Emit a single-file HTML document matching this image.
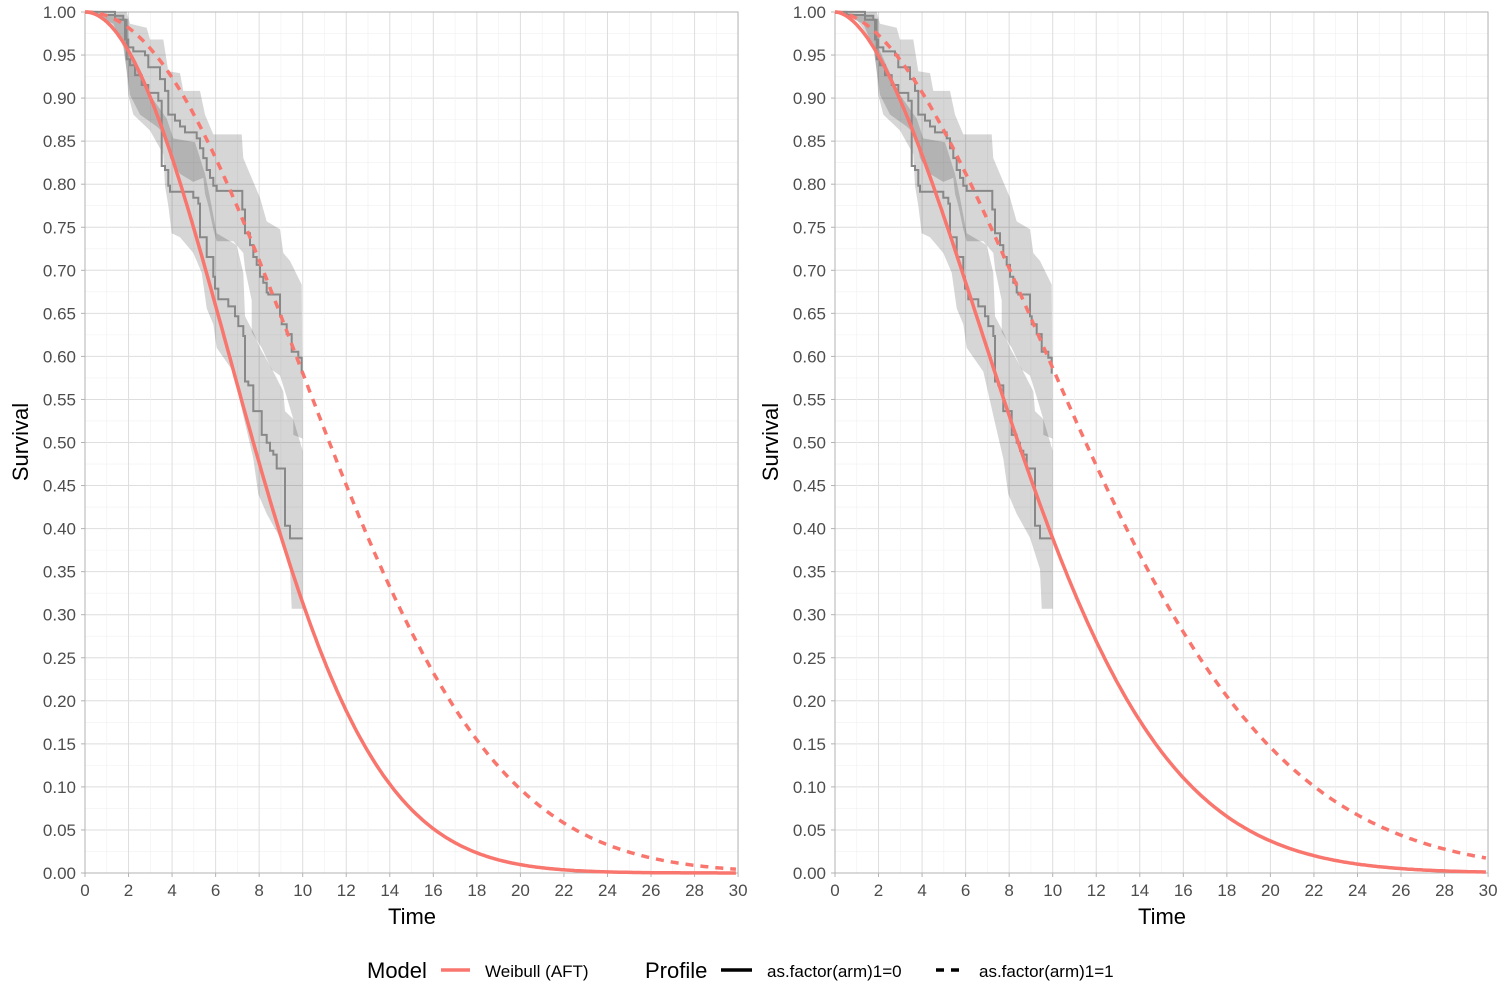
<!DOCTYPE html>
<html><head><meta charset="utf-8"><style>
html,body{margin:0;padding:0;background:#fff}
svg{display:block;font-family:"Liberation Sans",sans-serif}
</style></head><body>
<svg id="s" width="1500" height="999" xmlns="http://www.w3.org/2000/svg"></svg>
<script>
const S=document.getElementById('s');let h='';
const Y=v=>873-v*861;
const KM0=[[20,30],[105,30],[105,40],[130,40],[130,50],[140,50],[140,150],[150,150],[150,165],[165,165],[165,190],[185,190],[185,215],[205,215],[205,235],[235,235],[235,255],[245,255],[245,420],[255,420],[255,430],[265,430],[265,470],[270,470],[270,485],[340,485],[340,500],[355,500],[355,515],[360,515],[360,600],[380,600],[380,650],[400,650],[400,700],[405,700],[405,730],[415,730],[415,757],[445,757],[445,775],[465,775],[465,800],[475,800],[475,825],[490,825],[490,850],[495,850],[495,965],[505,965],[505,975],[520,975],[520,1040],[545,1040],[545,1100],[560,1100],[560,1120],[570,1120],[570,1140],[580,1140],[580,1150],[590,1150],[590,1185],[615,1185],[615,1330],[630,1330],[630,1362],[668,1362]];
const KM1=[[20,30],[50,30],[50,38],[105,38],[105,50],[135,50],[135,100],[145,100],[145,120],[160,120],[160,130],[195,130],[195,140],[205,140],[205,170],[240,170],[240,200],[255,200],[255,230],[265,230],[265,290],[285,290],[285,305],[300,305],[300,320],[315,320],[315,335],[350,335],[350,350],[360,350],[360,375],[370,375],[370,400],[380,400],[380,430],[390,430],[390,450],[400,450],[400,470],[410,470],[410,483],[487,483],[487,530],[495,530],[495,590],[510,590],[510,620],[520,620],[520,650],[530,650],[530,670],[540,670],[540,700],[550,700],[550,715],[560,715],[560,740],[565,740],[565,745],[600,745],[600,800],[605,800],[605,820],[620,820],[620,845],[635,845],[635,890],[655,890],[655,905],[665,905],[665,945]];
const B1=[[20,30],[140,30],[150,60],[200,70],[210,100],[250,100],[265,180],[300,185],[310,230],[360,230],[375,290],[400,340],[485,340],[490,400],[540,500],[560,560],[600,580],[610,640],[630,660],[665,720],[668,1110],[640,1100],[640,1060],[615,990],[600,950],[575,935],[545,880],[515,840],[515,760],[495,680],[490,640],[460,610],[410,610],[400,580],[385,520],[375,490],[370,450],[340,460],[300,440],[270,400],[255,340],[230,320],[180,290],[150,240],[140,180],[130,110],[80,50]];
const B0=[[20,30],[130,40],[140,100],[145,120],[210,240],[260,300],[280,350],[345,360],[375,440],[380,460],[390,500],[410,590],[470,620],[490,690],[495,800],[520,840],[540,880],[580,940],[610,990],[615,1040],[640,1060],[668,1140],[668,1540],[635,1540],[630,1440],[600,1360],[560,1300],[535,1250],[520,1160],[495,1070],[460,940],[410,880],[400,820],[380,780],[365,690],[340,640],[300,600],[275,590],[265,520],[255,470],[250,390],[210,330],[160,290],[145,240],[140,180],[130,120],[100,60]];
const pts=(a,dx)=>a.map(p=>((80+dx+p[0]/3).toFixed(1)+','+(p[1]/3*1.186).toFixed(1))).join(' ');
function panel(x0,curves){
  const X=t=>x0+t*21.77;
  for(let i=0;i<=40;i++){const v=i*0.025;h+=`<line x1="${x0}" x2="${x0+653}" y1="${Y(v)}" y2="${Y(v)}" stroke="${i%2?'#f0f0f0':'#dedede'}" stroke-width="${i%2?0.6:1}"/>`;}
  for(let t=0;t<=30;t++){h+=`<line y1="12" y2="873" x1="${X(t)}" x2="${X(t)}" stroke="${t%2?'#f0f0f0':'#dedede'}" stroke-width="${t%2?0.6:1}"/>`;}
  h+=`<rect x="${x0}" y="12" width="653" height="861" fill="none" stroke="#b3b3b3" stroke-width="1"/>`;
  for(let i=0;i<=20;i++){const v=i*0.05;h+=`<text x="${x0-9}" y="${Y(v)+6}" font-size="17" fill="#4d4d4d" text-anchor="end">${v.toFixed(2)}</text><line x1="${x0-4}" x2="${x0}" y1="${Y(v)}" y2="${Y(v)}" stroke="#b3b3b3"/>`;}
  for(let t=0;t<=30;t+=2){h+=`<text x="${X(t)}" y="896" font-size="17" fill="#4d4d4d" text-anchor="middle">${t}</text><line y1="873" y2="877" x1="${X(t)}" x2="${X(t)}" stroke="#b3b3b3"/>`;}
  const dx=x0-85;
  h+=`<polygon points="${pts(B1,dx)}" fill="#000" fill-opacity="0.16"/><polygon points="${pts(B0,dx)}" fill="#000" fill-opacity="0.16"/>`;
  h+=`<polyline points="${pts(KM0,dx)}" fill="none" stroke="#888" stroke-width="2"/><polyline points="${pts(KM1,dx)}" fill="none" stroke="#888" stroke-width="2"/>`;
  curves.forEach(([lam,k,dash])=>{let p=[];for(let t=0;t<=30;t+=0.1){p.push(X(t).toFixed(1)+','+Y(Math.exp(-Math.pow(t/lam,k))).toFixed(1));}
    h+=`<polyline points="${p.join(' ')}" fill="none" stroke="#F8766D" stroke-width="3.5" ${dash?'stroke-dasharray="8,7"':''}/>`;});
  h+=`<text x="${x0+327}" y="924" font-size="22" fill="#000" text-anchor="middle">Time</text>`;
  h+=`<text transform="translate(${x0-57},442) rotate(-90)" font-size="22" fill="#000" text-anchor="middle">Survival</text>`;
}
panel(85,[[9.29,2.0,0],[13.37,2.1,1]]);
panel(835,[[10.32,1.8,0],[14.04,1.85,1]]);
h+=`<text x="367" y="978" font-size="22">Model</text><line x1="441" x2="470" y1="970" y2="970" stroke="#F8766D" stroke-width="3.5"/><text x="485" y="977" font-size="17">Weibull (AFT)</text>`;
h+=`<text x="645" y="978" font-size="22">Profile</text><line x1="721" x2="752" y1="970" y2="970" stroke="#000" stroke-width="3.5"/><text x="767" y="977" font-size="17">as.factor(arm)1=0</text>`;
h+=`<line x1="936" x2="964" y1="970" y2="970" stroke="#000" stroke-width="3.5" stroke-dasharray="8,7"/><text x="979" y="977" font-size="17">as.factor(arm)1=1</text>`;
S.innerHTML=h;
</script>
</body></html>
